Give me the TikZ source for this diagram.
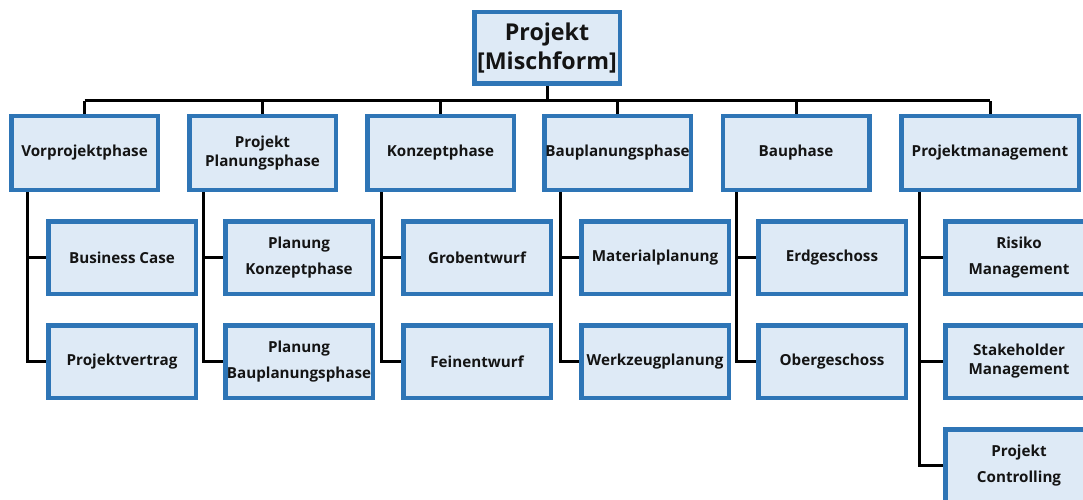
\documentclass[tikz,border=0pt]{standalone}
\usepackage{fontspec}
\setmainfont{Open Sans}
\usetikzlibrary{positioning}
\pgfdeclarelayer{background}
\pgfsetlayers{background,main}
\definecolor{boxblue}{RGB}{46,117,182}
\definecolor{boxfill}{RGB}{222,234,246}
\definecolor{ink}{RGB}{20,20,20}
\begin{document}
\begin{tikzpicture}[x=1pt,y=-1pt,
  box/.style={draw=boxblue,fill=boxfill,line width=4.5pt,inner sep=0pt,
    align=center,text=ink,font=\bfseries\fontsize{15.2}{19}\selectfont},
  phasebox/.style={box,minimum width=146.5pt,minimum height=73.5pt},
  wideph/.style={box,minimum width=177.5pt,minimum height=73.5pt},
  childbox/.style={box,minimum width=147.5pt,minimum height=72.5pt},
  loose/.style={font=\bfseries\fontsize{15.2}{26}\selectfont},
  topbox/.style={box,minimum width=145.5pt,minimum height=71.5pt,
    font=\bfseries\fontsize{23.2}{29}\selectfont},
  link/.style={draw=black,line width=3pt}]
\useasboundingbox (0,0) rectangle (1083,500);
\clip (0,0) rectangle (1083,500);

% root
\node[topbox] (root) at (547,48) {Projekt\\{[Mischform]}};

% phases
\node[phasebox] (pA) at (84.5,153) {Vorprojektphase};
\node[phasebox] (pB) at (262.5,153) {Projekt\\Planungsphase};
\node[phasebox] (pC) at (440.5,153) {Konzeptphase};
\node[phasebox] (pD) at (617.5,153) {Bauplanungsphase};
\node[phasebox] (pE) at (796,153) {Bauphase};
\node[wideph]   (pF) at (990,153) {Projektmanagement};

% work packages
\node[childbox] (a1) at (122,257.5) {Business Case};
\node[childbox] (a2) at (122,361.5) {Projektvertrag};
\node[childbox,loose] (b1) at (299,257.5) {Planung\\Konzeptphase};
\node[childbox,loose] (b2) at (299,361.5) {Planung\\Bauplanungsphase};
\node[childbox] (c1) at (477,257.5) {Grobentwurf};
\node[childbox] (c2) at (477,361.5) {Feinentwurf};
\node[childbox] (d1) at (655,257.5) {Materialplanung};
\node[childbox] (d2) at (655,361.5) {Werkzeugplanung};
\node[childbox] (e1) at (832,257.5) {Erdgeschoss};
\node[childbox] (e2) at (832,361.5) {Obergeschoss};
\node[childbox,loose] (f1) at (1019,257.5) {Risiko\\Management};
\node[childbox] (f2) at (1019,361.5) {Stakeholder\\Management};
\node[childbox,loose] (f3) at (1019,465.5) {Projekt\\Controlling};

% connectors
\coordinate (busL) at (84.5,101);
\coordinate (busR) at (990,101);
\path (pA.south west) ++(18,0) coordinate (sA);
\path (pB.south west) ++(16,0) coordinate (sB);
\path (pC.south west) ++(16,0) coordinate (sC);
\path (pD.south west) ++(18,0) coordinate (sD);
\path (pE.south west) ++(16,0) coordinate (sE);
\path (pF.south west) ++(20,0) coordinate (sF);
\begin{pgfonlayer}{background}
  \draw[link] (busL) -- (busR);
  \draw[link] (root.south) -- (root.south |- busL);
  \foreach \p in {pA,pB,pC,pD,pE,pF}
    \draw[link] (\p.north) -- (\p.north |- busL);
  \foreach \s/\u/\v in {sA/a1/a2,sB/b1/b2,sC/c1/c2,sD/d1/d2,sE/e1/e2}{
    \draw[link] (\s) |- (\v.west);
    \draw[link] (\u.west) -- (\u.west -| \s);
  }
  \draw[link] (sF) |- (f3.west);
  \draw[link] (f1.west) -- (f1.west -| sF);
  \draw[link] (f2.west) -- (f2.west -| sF);
\end{pgfonlayer}
\end{tikzpicture}
\end{document}
